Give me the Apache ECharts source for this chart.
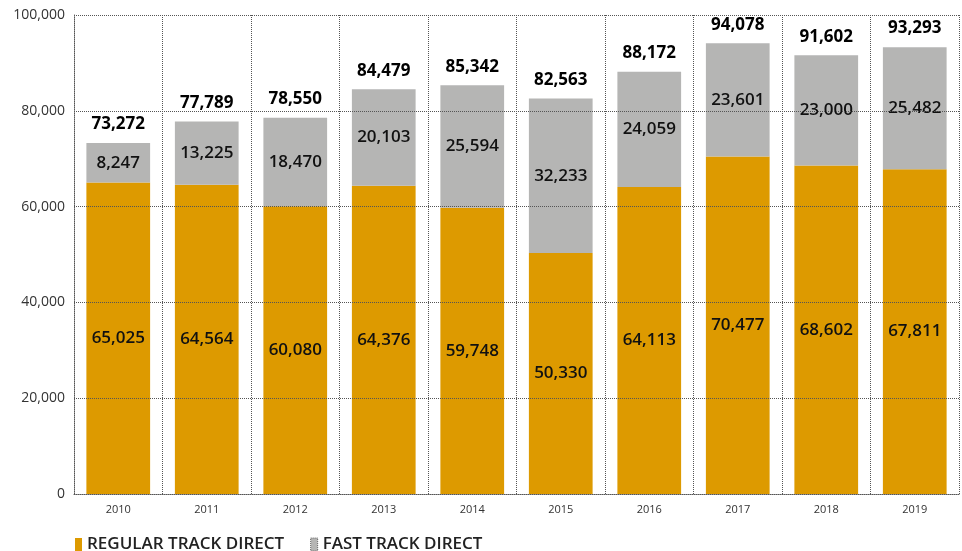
<!DOCTYPE html>
<html>
<head>
    <meta charset="UTF-8">
    <title>Regular vs fast track</title>
    <style>
        html, body { margin: 0; padding: 0; background: #fff; }
        #chart { width: 962px; height: 551px; }
    </style>
</head>
<body>
<div id="chart"></div>
<script src="https://cdn.jsdelivr.net/npm/echarts@6/dist/echarts.min.js"></script>
<script>
    var years = ['2010', '2011', '2012', '2013', '2014', '2015', '2016', '2017', '2018', '2019'];
    var regularTrack = [65025, 64564, 60080, 64376, 59748, 50330, 64113, 70477, 68602, 67811];
    var fastTrack = [8247, 13225, 18470, 20103, 25594, 32233, 24059, 23601, 23000, 25482];
    var totals = [73272, 77789, 78550, 84479, 85342, 82563, 88172, 94078, 91602, 93293];
    var yTicks = [0, 20000, 40000, 60000, 80000, 100000];

    var FONT = '"Open Sans", "Noto Sans", sans-serif';
    function fmt(v) {
        return Number(v).toLocaleString('en-US');
    }

    var chart = echarts.init(document.getElementById('chart'));
    var dotted = { color: '#555', width: 1, type: [1, 1] };

    chart.setOption({
        animation: false,
        textStyle: { fontFamily: FONT },
        grid: { left: 74, right: 3, top: 15, bottom: 57 },
        legend: {
            left: 70, top: 531,
            itemWidth: 7, itemHeight: 13, itemGap: 26,
            textStyle: { fontFamily: FONT, fontSize: 17, fontWeight: 600, color: '#222' },
            data: [
                { name: 'REGULAR TRACK DIRECT', icon: 'rect' },
                { name: 'FAST TRACK DIRECT', icon: 'rect',
                  itemStyle: { borderColor: '#666', borderWidth: 1, borderType: [1, 1] } }
            ]
        },
        xAxis: {
            type: 'category',
            data: years,
            z: 5,
            axisLine: { show: true, lineStyle: dotted },
            axisTick: { show: false },
            splitLine: { show: true, lineStyle: dotted },
            axisLabel: { fontFamily: FONT, fontSize: 11, color: '#333', margin: 10 }
        },
        yAxis: {
            type: 'value',
            min: yTicks[0], max: yTicks[yTicks.length - 1], interval: 20000,
            z: 5,
            axisLine: { show: true, lineStyle: dotted },
            axisTick: { show: false },
            splitLine: { show: true, lineStyle: dotted },
            axisLabel: { fontFamily: FONT, fontSize: 14, color: '#333', margin: 9, formatter: fmt }
        },
        series: [
            {
                name: 'REGULAR TRACK DIRECT',
                type: 'bar', stack: 'all',
                barCategoryGap: '28%',
                data: regularTrack,
                itemStyle: { color: '#DD9A00' },
                label: {
                    show: true, position: 'inside',
                    fontFamily: FONT, fontSize: 17, fontWeight: 600, color: '#111',
                    formatter: function (p) { return fmt(p.value); }
                }
            },
            {
                name: 'FAST TRACK DIRECT',
                type: 'bar', stack: 'all',
                data: fastTrack,
                itemStyle: { color: '#B5B5B4' },
                label: {
                    show: true, position: 'inside',
                    fontFamily: FONT, fontSize: 17, fontWeight: 600, color: '#111',
                    formatter: function (p) { return fmt(p.value); }
                }
            },
            {
                name: 'total',
                type: 'bar', stack: 'all',
                data: totals.map(function () { return 0; }),
                itemStyle: { color: 'transparent' },
                label: {
                    show: true, position: 'top', distance: 10,
                    fontFamily: FONT, fontSize: 17, fontWeight: 700, color: '#000',
                    formatter: function (p) { return fmt(totals[p.dataIndex]); }
                }
            }
        ]
    });
</script>
</body>
</html>
